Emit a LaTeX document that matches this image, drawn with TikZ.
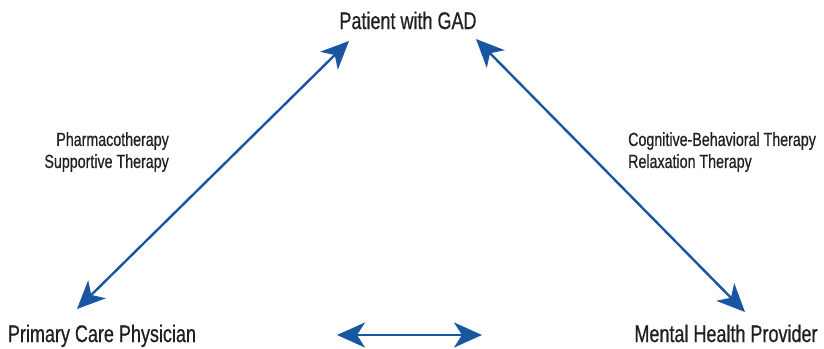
\documentclass[tikz,border=0pt]{standalone}
\usepackage{fontspec}
\setmainfont{Liberation Sans}[FakeStretch=0.75,FakeBold=0.6]
\usetikzlibrary{arrows.meta}
\definecolor{arrowblue}{RGB}{24,86,162}
\definecolor{txt}{RGB}{35,31,32}
\begin{document}
\begin{tikzpicture}[x=1pt,y=-1pt,
  big/.style={font=\fontsize{24}{28}\selectfont, text=txt, inner sep=0pt, anchor=base},
  small/.style={font=\fontsize{19}{22}\selectfont, text=txt, inner sep=0pt, anchor=north east},
  link/.style={draw=arrowblue, line width=2.4pt,
    {Stealth[length=28pt,width=25pt,inset=8pt]}-{Stealth[length=28pt,width=25pt,inset=8pt]}}]
\useasboundingbox (0,0) rectangle (824,348);
\node[big] (pat) at (408,29) {Patient with GAD};
\node[big] (pcp) at (102,342) {Primary Care Physician};
\node[big] (mhp) at (726,342) {Mental Health Provider};
\node[small, align=right, anchor=north east] (lt) at (169,132) {Pharmacotherapy\\Supportive Therapy};
\node[small, align=left, anchor=north west] (rt) at (628,132) {Cognitive-Behavioral Therapy\\Relaxation Therapy};
\coordinate (pl) at (349,41);
\coordinate (pr) at (476,39);
\coordinate (cl) at (77,309);
\coordinate (mr) at (745,312);
\coordinate (hl) at (337,335);
\coordinate (hr) at (482,335);
\draw[link] (cl) -- (pl);
\draw[link] (pr) -- (mr);
\draw[link] (hl) -- (hr);
\end{tikzpicture}
\end{document}
